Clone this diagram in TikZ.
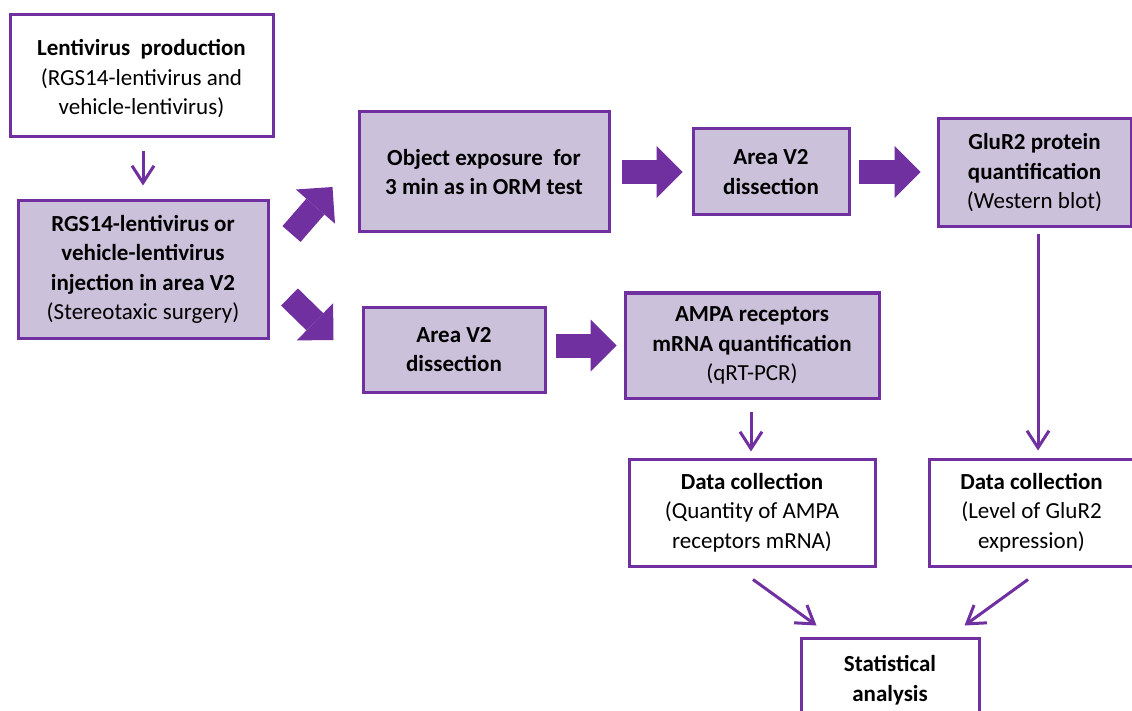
\documentclass[tikz,border=0pt]{standalone}
\usepackage{fontspec}
\setmainfont{Carlito}
\usetikzlibrary{arrows.meta,calc}
\definecolor{flowpurple}{HTML}{7030A0}
\definecolor{flowlilac}{HTML}{CCC1DA}

\begin{document}
\begin{tikzpicture}[x=1pt,y=-1pt,
  box/.style={draw=flowpurple, line width=3pt, align=center, inner sep=0pt,
              font=\fontsize{23}{29.5}\selectfont, text=black},
  filledbox/.style={box, fill=flowlilac},
  plainbox/.style={box, fill=white},
  label/.style={box, draw=none},
  thinarrow/.style={draw=flowpurple, line width=3pt,
                    -{Straight Barb[length=17pt,width=22pt]}},
  blockarrow/.style={draw=flowpurple, line width=24pt,
                     -{Triangle[length=26pt,width=52pt,line width=0pt]}}
]
\fill[white] (0,0) rectangle (1132,711);
\useasboundingbox (0,0) rectangle (1132,711);

% process steps
\node[plainbox, minimum width=263pt, minimum height=122pt] (b1) at (141.5,76) {};
\node[label] (b1text) at (141.5,79)
  {\textbf{Lentivirus\ \ production}\\(RGS14-lentivirus and\\vehicle-lentivirus)};
\node[filledbox, minimum width=250pt, minimum height=137pt] (b2) at (143,269.5)
  {\textbf{RGS14-lentivirus or}\\\textbf{vehicle-lentivirus}\\\textbf{injection in area V2}\\(Stereotaxic surgery)};
\node[filledbox, minimum width=250pt, minimum height=120pt] (b3) at (484,172)
  {\textbf{Object exposure\ \ for}\\\textbf{3 min as in ORM test}};
\node[filledbox, minimum width=156pt, minimum height=86pt] (b4) at (771,172)
  {\textbf{Area V2}\\\textbf{dissection}};
\node[filledbox, minimum width=193pt, minimum height=108pt] (b5) at (1034.5,173)
  {\textbf{GluR2 protein}\\\textbf{quantification}\\(Western blot)};
\node[filledbox, minimum width=182pt, minimum height=85pt] (b6) at (454,349.5)
  {\textbf{Area V2}\\\textbf{dissection}};
\node[filledbox, minimum width=254pt, minimum height=105pt] (ampa) at (752,345.5)
  {\textbf{AMPA receptors}\\\textbf{mRNA quantification}\\(qRT-PCR)};
\node[plainbox, minimum width=246pt, minimum height=107pt] (dcl) at (752,512.5)
  {\textbf{Data collection}\\(Quantity of AMPA\\receptors mRNA)};
\node[plainbox, minimum width=210pt, minimum height=107pt] (dcr) at (1034,512.5) {};
\node[label] (dcrtext) at (1031.5,512.5)
  {\textbf{Data collection}\\(Level of GluR2\\expression)};
\node[plainbox, minimum width=178pt, minimum height=84pt] (stat) at (890,680)
  {\textbf{Statistical}\\\textbf{analysis}};

% thin arrows
\draw[thinarrow] ($(b1.south)+(1.5,13)$) -- ($(b2.north)+(0,-14)$);
\draw[thinarrow] ($(ampa.south)+(-1,12)$) -- ($(dcl.north)+(-1,-6)$);
\draw[thinarrow] ($(b5.south)+(3.5,6)$) -- ($(dcr.north)+(4,-7)$);
\draw[thinarrow] ($(dcl.south)+(1,12)$) -- ($(stat.north west)+(17,-11)$);
\draw[thinarrow] ($(dcr.south)+(-6,12)$) -- ($(stat.north east)+(-16,-11)$);

% block arrows
\draw[blockarrow] ($(b2.east)+(22,-35.5)$) -- ($(b3.west)+(-25,15)$);
\draw[blockarrow] ($(b2.east)+(20,27.5)$) -- ($(b6.west)+(-28,-9.5)$);
\draw[blockarrow] ($(b3.east)+(11,0)$) -- ($(b4.west)+(-9,0)$);
\draw[blockarrow] ($(b4.east)+(8,0)$) -- ($(b5.west)+(-16,-1)$);
\draw[blockarrow] ($(b6.east)+(9,-4)$) -- ($(ampa.west)+(-7,0)$);
\end{tikzpicture}
\end{document}
